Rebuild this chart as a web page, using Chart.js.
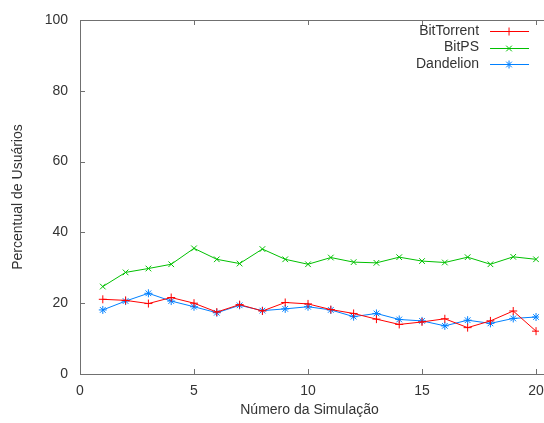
<!DOCTYPE html>
<html>
<head>
<meta charset="utf-8">
<script src="https://cdn.jsdelivr.net/npm/chart.js@4/dist/chart.umd.min.js"></script>
<style>
  html, body { margin: 0; padding: 0; background: #fff; }
  #wrap { width: 544px; height: 423px; }
</style>
</head>
<body>
<div id="wrap"><canvas id="chart" width="544" height="423"></canvas></div>
<script>
const simulations = [1, 2, 3, 4, 5, 6, 7, 8, 9, 10, 11, 12, 13, 14, 15, 16, 17, 18, 19, 20];
const bitTorrent = [21.1, 20.8, 19.9, 21.6, 20.0, 17.5, 19.6, 17.8, 20.2, 19.8, 18.2, 17.1, 15.5, 14.0, 14.7, 15.6, 13.1, 15.0, 17.8, 12.1];
const bitPS = [24.7, 28.7, 29.8, 31.0, 35.5, 32.4, 31.2, 35.3, 32.4, 31.0, 32.9, 31.6, 31.4, 33.0, 31.9, 31.5, 33.0, 31.0, 33.1, 32.4];
const dandelion = [18.1, 20.6, 22.8, 20.6, 19.0, 17.3, 19.4, 17.9, 18.4, 19.0, 18.1, 16.2, 17.1, 15.4, 15.0, 13.6, 15.2, 14.3, 15.7, 16.1];
const xTicks = [0, 5, 10, 15, 20];
const yTicks = [0, 20, 40, 60, 80, 100];

const FONT = "'Liberation Sans', Arial, sans-serif";
const TEXT = '#333';
const AXIS = '#707070';

function series(label, values, color, style) {
    return {
        label: label,
        data: values.map((v, i) => ({ x: simulations[i], y: v })),
        borderColor: color,
        backgroundColor: color,
        borderWidth: 1,
        pointStyle: style,
        pointRadius: 4,
        pointBorderWidth: 1,
        pointHoverRadius: 4,
        tension: 0
    };
}

// gnuplot-like frame with inward ticks and a key drawn at the top right
const framePlugin = {
    id: 'frame',
    afterDraw(chart) {
        const ctx = chart.ctx;
        const a = chart.chartArea;
        const edge = chart.width;
        const xs = chart.scales.x, ys = chart.scales.y;
        ctx.save();
        ctx.strokeStyle = AXIS;
        ctx.lineWidth = 1;
        ctx.beginPath();
        ctx.moveTo(a.left + 0.5, a.top + 0.5);
        ctx.lineTo(edge, a.top + 0.5);
        ctx.moveTo(a.left + 0.5, a.top);
        ctx.lineTo(a.left + 0.5, a.bottom + 0.5);
        ctx.lineTo(edge, a.bottom + 0.5);
        xTicks.forEach(t => {
            const px = Math.round(xs.getPixelForValue(t)) + 0.5;
            ctx.moveTo(px, a.bottom);
            ctx.lineTo(px, a.bottom - 5);
            ctx.moveTo(px, a.top);
            ctx.lineTo(px, a.top + 5);
        });
        yTicks.forEach(t => {
            const py = Math.round(ys.getPixelForValue(t)) + 0.5;
            ctx.moveTo(a.left, py);
            ctx.lineTo(a.left + 5, py);
        });
        ctx.stroke();

        // key
        const keyRight = xs.getPixelForValue(20) + 7;
        ctx.font = '14px ' + FONT;
        ctx.textAlign = 'right';
        ctx.textBaseline = 'middle';
        chart.data.datasets.forEach((ds, i) => {
            const y = a.top + 11 + i * 16.5;
            ctx.fillStyle = TEXT;
            ctx.fillText(ds.label, keyRight - 64, y);
            ctx.strokeStyle = ds.borderColor;
            ctx.beginPath();
            ctx.moveTo(keyRight - 53, Math.round(y) + 0.5);
            ctx.lineTo(keyRight - 14, Math.round(y) + 0.5);
            ctx.stroke();
            Chart.helpers.drawPoint(ctx, {
                pointStyle: ds.pointStyle, radius: 4, borderWidth: 1
            }, keyRight - 34, Math.round(y) + 0.5);
        });
        ctx.restore();
    }
};

new Chart(document.getElementById('chart'), {
    type: 'line',
    data: {
        datasets: [
            series('BitTorrent', bitTorrent, 'rgb(255, 0, 0)', 'cross'),
            series('BitPS', bitPS, 'rgb(0, 192, 0)', 'crossRot'),
            series('Dandelion', dandelion, 'rgb(0, 128, 255)', 'star')
        ]
    },
    options: {
        responsive: false,
        animation: false,
        layout: { padding: { top: 20, right: 0, left: 0, bottom: 0 } },
        plugins: {
            legend: { display: false },
            tooltip: { enabled: false }
        },
        scales: {
            x: {
                type: 'linear',
                min: 0,
                max: 20.13,
                afterBuildTicks: s => { s.ticks = xTicks.map(v => ({ value: v })); },
                afterFit: s => { s.height = 49; s.paddingLeft = 0; s.paddingRight = 0; },
                grid: { display: false, drawTicks: false },
                border: { display: false },
                ticks: { color: TEXT, font: { family: FONT, size: 14 }, padding: 9, maxRotation: 0 },
                title: {
                    display: true, text: 'Número da Simulação', color: TEXT,
                    font: { family: FONT, size: 14 }, padding: { top: 0, bottom: 4 }
                }
            },
            y: {
                min: 0,
                max: 100,
                afterBuildTicks: s => { s.ticks = yTicks.map(v => ({ value: v })); },
                afterFit: s => { s.width = 80; s.paddingTop = 0; s.paddingBottom = 0; },
                grid: { display: false, drawTicks: false },
                border: { display: false },
                ticks: { color: TEXT, font: { family: FONT, size: 14 }, padding: 12 },
                title: {
                    display: true, text: 'Percentual de Usuários', color: TEXT,
                    font: { family: FONT, size: 14 }, padding: { top: 10, bottom: 0 }
                }
            }
        }
    },
    plugins: [framePlugin]
});
</script>
</body>
</html>
